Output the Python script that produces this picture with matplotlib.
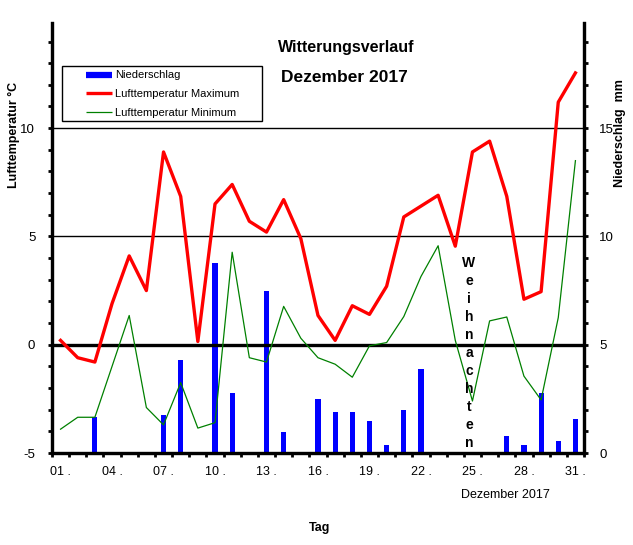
#############
# Libraries #
#############

import matplotlib
matplotlib.use("Agg")
import matplotlib.pyplot as plt
from matplotlib.lines import Line2D
from matplotlib.patches import Rectangle
import numpy as np

########
# Data #
########

days = list(range(1, 32))
tmax = [0.2, -0.6, -0.8, 1.9, 4.1, 2.5, 8.9, 6.85, 0.15, 6.5, 7.4, 5.7, 5.2, 6.7, 4.9,
        1.35, 0.2, 1.8, 1.4, 2.7, 5.9, 6.4, 6.9, 4.55, 8.9, 9.4, 6.85, 2.1, 2.45, 11.2, 12.55]
tmin = [-3.9, -3.35, -3.35, -1.0, 1.35, -2.9, -3.7, -1.75, -3.85, -3.6, 4.27, -0.6, -0.8, 1.77, 0.3,
        -0.6, -0.9, -1.5, -0.05, 0.1, 1.3, 3.15, 4.57, 0.2, -2.6, 1.1, 1.28, -1.45, -2.55, 1.25, 8.5]
precip = [0, 0, 1.65, 0, 0, 0, 1.75, 4.3, 0, 8.77, 2.76, 0, 7.49, 0.97, 0, 2.5, 1.9, 1.9, 1.48,
          0.37, 2.0, 3.88, 0, 0, 0, 0, 0.79, 0.37, 2.76, 0.55, 1.57]
xtick_days = [1, 4, 7, 10, 13, 16, 19, 22, 25, 28, 31]
xtick_labels = ["%02d ." % d for d in xtick_days]
temp_ticks = [-5, 0, 5, 10]
rain_ticks = [0, 5, 10, 15]
note = "Weihnachten"

#############
# Functions #
#############

def style_axes(ax, ax2):
    """
    Thick spines, short outward ticks like the original spreadsheet chart.
    """
    for a in (ax, ax2):
        for s in a.spines.values():
            s.set_linewidth(2.3)
        a.spines["top"].set_visible(False)
    ax.set_xlim(0.5, 31.5)
    ax.set_ylim(-5, 14.87)
    ax2.set_ylim(0, 19.87)
    ax.set_yticks(temp_ticks)
    ax.set_yticks(np.arange(-5, 15, 1), minor=True)
    ax2.set_yticks(rain_ticks)
    ax2.set_yticks(np.arange(0, 20, 1), minor=True)
    ax.set_xticks(xtick_days)
    ax.set_xticklabels(xtick_labels)
    ax.set_xticks(np.arange(0.5, 32, 1), minor=True)
    ax.tick_params(axis="x", which="major", length=0, pad=9, labelsize=9)
    ax.tick_params(axis="x", which="minor", length=3, width=2, direction="out")
    ax.tick_params(axis="y", which="both", length=3, width=2, direction="out", pad=9, labelsize=9.5)
    ax2.tick_params(axis="y", which="both", length=3, width=2, direction="out", pad=8, labelsize=9.5)

def draw_legend(fig):
    """
    Legend box drawn by hand, entries indented like the original.
    """
    fig.patches.append(Rectangle((62 / 633, 1 - 121 / 545), 200 / 633, 55 / 545,
                                 transform=fig.transFigure, fill=False,
                                 edgecolor="black", linewidth=1, zorder=10))
    handles = [Line2D([], [], color="#0000ff", linewidth=4.5, solid_capstyle="butt"),
               Line2D([], [], color="#ff0000", linewidth=2.4, solid_capstyle="butt"),
               Line2D([], [], color="#008000", linewidth=0.9, solid_capstyle="butt")]
    labels = ["Niederschlag", "Lufttemperatur Maximum", "Lufttemperatur Minimum"]
    leg = fig.legend(handles, labels, loc="upper left",
                     bbox_to_anchor=(82 / 633, 1 - 66 / 545),
                     fontsize=8, frameon=False, borderaxespad=0,
                     handlelength=2.3, handletextpad=0.3,
                     labelspacing=0.8, borderpad=0.4)
    leg.set_zorder(10)

###########
# Program #
###########

if __name__ == '__main__':
    plt.rcParams["font.family"] = ["Liberation Sans", "DejaVu Sans"]
    plt.rcParams["axes.unicode_minus"] = False
    fig = plt.figure(figsize=(6.33, 5.45), dpi=100)
    ax = fig.add_axes([0.0821, 0.1688, 0.8405, 0.7896])
    ax2 = ax.twinx()
    ax.set_zorder(ax2.get_zorder() + 1)
    ax.patch.set_visible(False)

    ax2.bar(days, precip, width=0.3, color="#0000ff", zorder=2)

    for y in (5, 10):
        ax.axhline(y, color="black", linewidth=1, zorder=1)
    ax.axhline(0, color="black", linewidth=2.4, zorder=1)
    ax.plot(days, tmin, color="#008000", linewidth=0.9, zorder=3)
    ax.plot(days, tmax, color="#ff0000", linewidth=2.4, zorder=4)

    style_axes(ax, ax2)

    # vertical note
    for i, ch in enumerate(note):
        ax.text(24.8, 3.78 - i * 0.83, ch, ha="center", va="center",
                fontsize=10, fontweight="bold", zorder=5)

    draw_legend(fig)

    fig.text(346 / 633, 1 - 47 / 545, "Witterungsverlauf", ha="center", va="center",
             fontsize=11.5, fontweight="bold")
    fig.text(344 / 633, 1 - 77 / 545, "Dezember 2017", ha="center", va="center",
             fontsize=12.5, fontweight="bold")
    fig.text(14 / 633, 1 - 135 / 545, "Lufttemperatur \u00b0C", rotation=90,
             ha="center", va="center", fontsize=9, fontweight="bold")
    fig.text(620 / 633, 1 - 133 / 545, "Niederschlag  mm", rotation=90,
             ha="center", va="center", fontsize=9, fontweight="bold")
    fig.text(320 / 633, 1 - 528 / 545, "Tag", ha="center", va="center",
             fontsize=9, fontweight="bold")
    fig.text(505 / 633, 1 - 495 / 545, "Dezember 2017", ha="center", va="center",
             fontsize=9)

    fig.savefig("out.png", dpi=100)
